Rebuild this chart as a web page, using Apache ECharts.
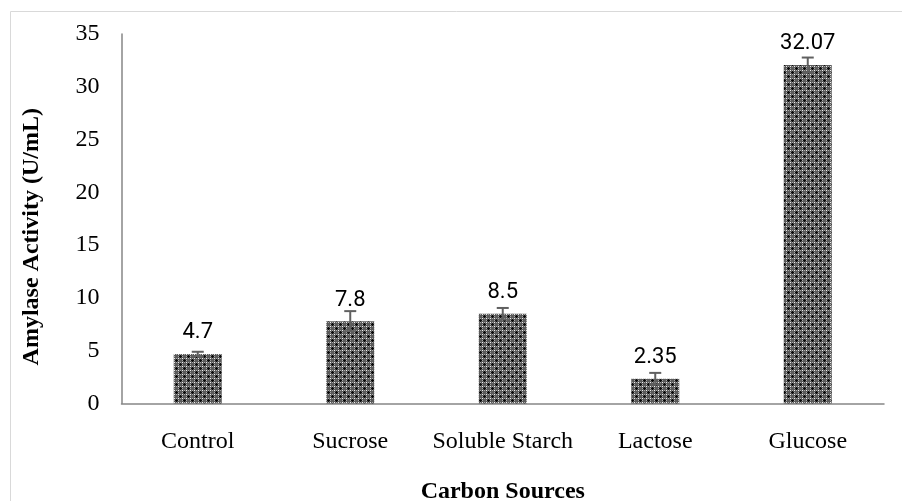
<!DOCTYPE html>
<html>
<head>
<meta charset="utf-8">
<script src="https://cdn.jsdelivr.net/npm/echarts@6/dist/echarts.min.js"></script>
<style>html,body{margin:0;padding:0;background:#fff}#c{width:902px;height:501px}</style>
</head>
<body>
<div id="c"></div>
<script>
const categories = ['Control', 'Sucrose', 'Soluble Starch', 'Lactose', 'Glucose'];
const activity = [4.7, 7.8, 8.5, 2.35, 32.07];
const activityLabels = ['4.7', '7.8', '8.5', '2.35', '32.07'];
const errors = [0.2, 0.95, 0.55, 0.55, 0.7];
const yTicks = [0, 5, 10, 15, 20, 25, 30, 35];

// pattern tile for the bars
function makeTile() {
  const c = document.createElement('canvas');
  c.width = 8; c.height = 8;
  const g = c.getContext('2d');
  g.fillStyle = '#5a5a5a'; g.fillRect(0, 0, 8, 8);
  g.fillStyle = '#0a0a0a';
  const plus = (x, y) => { [[0,0],[1,0],[-1,0],[0,1],[0,-1]].forEach(([dx,dy]) => g.fillRect((x+dx+8)%8, (y+dy+8)%8, 1, 1)); };
  plus(0, 0); plus(4, 4);
  g.fillStyle = '#f0f0f0';
  [[2,2],[6,2],[2,6],[6,6]].forEach(([x,y]) => g.fillRect(x, y, 1, 1));
  g.fillStyle = '#a8a8a8';
  [[2,0],[6,0],[0,2],[4,2],[2,4],[6,4],[0,6],[4,6]].forEach(([x,y]) => g.fillRect(x, y, 1, 1));
  return c;
}

const chart = echarts.init(document.getElementById('c'), null, {renderer: 'canvas'});
const errData = categories.map((c, i) => [i, activity[i] - errors[i], activity[i] + errors[i]]);

chart.setOption({
  animation: false,
  graphic: [{
    type: 'rect', shape: {x: 10.5, y: 11.5, width: 1000, height: 1000},
    style: {fill: 'none', stroke: '#d9d9d9', lineWidth: 1}, silent: true, z: -10
  }],
  grid: {left: 121.5, right: 18, top: 34, bottom: 97.5, containLabel: false, outerBoundsMode: 'none'},
  xAxis: {
    type: 'category', data: categories,
    axisLine: {lineStyle: {color: '#868686', width: 1.5}},
    axisTick: {show: false},
    axisLabel: {fontFamily: 'Liberation Serif', fontSize: 24, color: '#000', margin: 26, interval: 0},
    name: 'Carbon Sources', nameLocation: 'middle', nameGap: 76,
    nameTextStyle: {fontFamily: 'Liberation Serif', fontSize: 24, fontWeight: 'bold', color: '#000'}
  },
  yAxis: {
    type: 'value', min: yTicks[0], max: yTicks[yTicks.length - 1], interval: 5,
    axisLine: {show: true, lineStyle: {color: '#868686', width: 1.5}},
    axisTick: {show: false},
    splitLine: {show: false},
    axisLabel: {fontFamily: 'Liberation Serif', fontSize: 24, color: '#000', margin: 22},
    name: 'Amylase Activity (U/mL)', nameLocation: 'middle', nameGap: 78,
    nameTextStyle: {fontFamily: 'Liberation Serif', fontSize: 24, fontWeight: 'bold', color: '#000', padding: [0, 36, 0, 0]}
  },
  series: [{
    type: 'bar', data: activity, barWidth: 48,
    itemStyle: {color: {image: makeTile(), repeat: 'repeat'}},
    label: {
      show: true, position: 'top', distance: 10,
      fontFamily: 'Roboto', fontSize: 22, color: '#000',
      formatter: p => activityLabels[p.dataIndex]
    }
  }, {
    type: 'custom', data: errData, z: 10,
    renderItem: function (params, api) {
      const x = api.coord([api.value(0), api.value(1)])[0];
      const lo = api.coord([api.value(0), api.value(1)])[1];
      const hi = api.coord([api.value(0), api.value(2)])[1];
      const w = 6;
      const st = {stroke: '#606060', lineWidth: 2};
      return {type: 'group', children: [
        {type: 'line', shape: {x1: x, y1: lo, x2: x, y2: hi}, style: st},
        {type: 'line', shape: {x1: x - w, y1: lo, x2: x + w, y2: lo}, style: st},
        {type: 'line', shape: {x1: x - w, y1: hi, x2: x + w, y2: hi}, style: st}
      ]};
    }
  }]
});
</script>
</body>
</html>
